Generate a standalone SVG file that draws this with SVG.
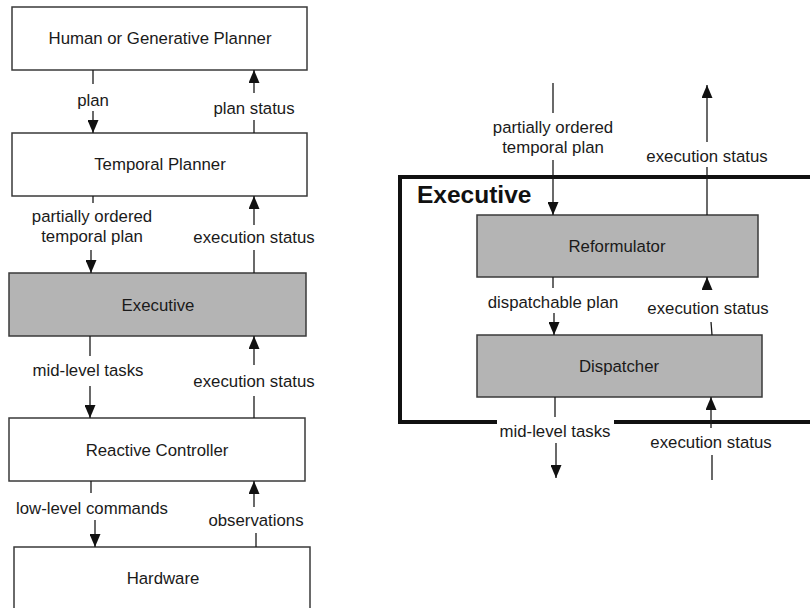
<svg xmlns="http://www.w3.org/2000/svg" width="810" height="608" viewBox="0 0 810 608">
  <style>
    .box { fill: #ffffff; stroke: #3a3a3a; stroke-width: 1.5; }
    .shade { fill: #b4b4b4; stroke: #3a3a3a; stroke-width: 1.5; }
    .lbl { font-family: "Liberation Sans", Arial, sans-serif; font-size: 16.8px; fill: #1a1a1a; text-anchor: middle; }
    .wire { stroke: #1a1a1a; stroke-width: 1.3; fill: none; }
    .arrow { stroke: #1a1a1a; stroke-width: 1.3; fill: none; marker-end: url(#head); }
    .frame { stroke: #111111; stroke-width: 4; fill: none; }
    .title { font-family: "Liberation Sans", Arial, sans-serif; font-size: 24.5px; font-weight: bold; fill: #111111; }
  </style>
  <defs>
    <marker id="head" viewBox="0 0 13 11" refX="13" refY="5.5" markerWidth="13" markerHeight="11" markerUnits="userSpaceOnUse" orient="auto">
      <path d="M0,0 L13,5.5 L0,11 z" fill="#111111"/>
    </marker>
  </defs>
  <rect width="810" height="608" fill="#ffffff"/>

  <!-- Left column: layered architecture -->
  <g id="human-planner">
    <rect class="box" x="12" y="7" width="295" height="63"/>
    <text class="lbl" x="160" y="44">Human or Generative Planner</text>
  </g>
  <g id="temporal-planner">
    <rect class="box" x="12" y="133" width="295" height="63"/>
    <text class="lbl" x="160" y="170">Temporal Planner</text>
  </g>
  <g id="executive">
    <rect class="shade" x="9" y="273" width="297" height="63"/>
    <text class="lbl" x="158" y="311">Executive</text>
  </g>
  <g id="reactive-controller">
    <rect class="box" x="9" y="418" width="296" height="63"/>
    <text class="lbl" x="157" y="456">Reactive Controller</text>
  </g>
  <g id="hardware">
    <rect class="box" x="14" y="547" width="296" height="80"/>
    <text class="lbl" x="163" y="584">Hardware</text>
  </g>

  <!-- Right side: inside the executive -->
  <g id="executive-frame">
    <path class="frame" d="M810,177 H400 V422 H497 M614,422 H810"/>
    <text class="title" x="417" y="203">Executive</text>
  </g>
  <g id="reformulator">
    <rect class="shade" x="477" y="215" width="281" height="62"/>
    <text class="lbl" x="617" y="252">Reformulator</text>
  </g>
  <g id="dispatcher">
    <rect class="shade" x="477" y="335" width="285" height="62"/>
    <text class="lbl" x="619" y="372">Dispatcher</text>
  </g>

  <!-- Connectors and their labels -->
  <g id="connectors">
    <!-- plan -->
    <line class="wire" x1="93" y1="70" x2="93" y2="84"/>
    <text class="lbl" x="93" y="106">plan</text>
    <line class="arrow" x1="93" y1="111" x2="93" y2="133"/>
    <!-- plan status -->
    <line class="arrow" x1="254" y1="93" x2="254" y2="70"/>
    <text class="lbl" x="254" y="114">plan status</text>
    <line class="wire" x1="254" y1="120" x2="254" y2="133"/>

    <!-- partially ordered temporal plan (left) -->
    <line class="wire" x1="93" y1="196" x2="93" y2="203"/>
    <text class="lbl" x="92" y="222">partially ordered</text>
    <text class="lbl" x="92" y="242">temporal plan</text>
    <line class="arrow" x1="91" y1="250" x2="91" y2="273"/>
    <!-- execution status (executive to temporal planner) -->
    <line class="arrow" x1="254" y1="225" x2="254" y2="196"/>
    <text class="lbl" x="254" y="243">execution status</text>
    <line class="wire" x1="254" y1="250" x2="254" y2="273"/>

    <!-- mid-level tasks (left) -->
    <line class="wire" x1="90" y1="336" x2="90" y2="356"/>
    <text class="lbl" x="88" y="376">mid-level tasks</text>
    <line class="arrow" x1="90" y1="386" x2="90" y2="418"/>
    <!-- execution status (controller to executive) -->
    <line class="arrow" x1="254" y1="365" x2="254" y2="336"/>
    <text class="lbl" x="254" y="387">execution status</text>
    <line class="wire" x1="254" y1="396" x2="254" y2="418"/>

    <!-- low-level commands -->
    <line class="wire" x1="91" y1="481" x2="91" y2="493"/>
    <text class="lbl" x="92" y="514">low-level commands</text>
    <line class="arrow" x1="95" y1="520" x2="95" y2="547"/>
    <!-- observations -->
    <line class="arrow" x1="254" y1="507" x2="254" y2="481"/>
    <text class="lbl" x="256" y="526">observations</text>
    <line class="wire" x1="256" y1="533" x2="256" y2="547"/>

    <!-- partially ordered temporal plan (into reformulator) -->
    <line class="wire" x1="553" y1="83" x2="553" y2="113"/>
    <text class="lbl" x="553" y="133">partially ordered</text>
    <text class="lbl" x="553" y="153">temporal plan</text>
    <line class="arrow" x1="553" y1="160" x2="553" y2="215"/>
    <!-- execution status (out of reformulator) -->
    <line class="arrow" x1="707" y1="142" x2="707" y2="85"/>
    <text class="lbl" x="707" y="162">execution status</text>
    <line class="wire" x1="707" y1="167" x2="707" y2="215"/>

    <!-- dispatchable plan -->
    <line class="wire" x1="553" y1="277" x2="553" y2="288"/>
    <text class="lbl" x="553" y="308">dispatchable plan</text>
    <line class="arrow" x1="554" y1="313" x2="554" y2="335"/>
    <!-- execution status (dispatcher to reformulator) -->
    <line class="arrow" x1="707" y1="290" x2="707" y2="277"/>
    <text class="lbl" x="708" y="314">execution status</text>
    <line class="wire" x1="711" y1="322" x2="712" y2="335"/>

    <!-- mid-level tasks (out of dispatcher) -->
    <line class="wire" x1="555" y1="397" x2="555" y2="417"/>
    <text class="lbl" x="555" y="437">mid-level tasks</text>
    <line class="arrow" x1="556" y1="443" x2="556" y2="478"/>
    <!-- execution status (into dispatcher) -->
    <line class="arrow" x1="711" y1="428" x2="711" y2="397"/>
    <text class="lbl" x="711" y="448">execution status</text>
    <line class="wire" x1="712" y1="455" x2="712" y2="480"/>
  </g>
</svg>
